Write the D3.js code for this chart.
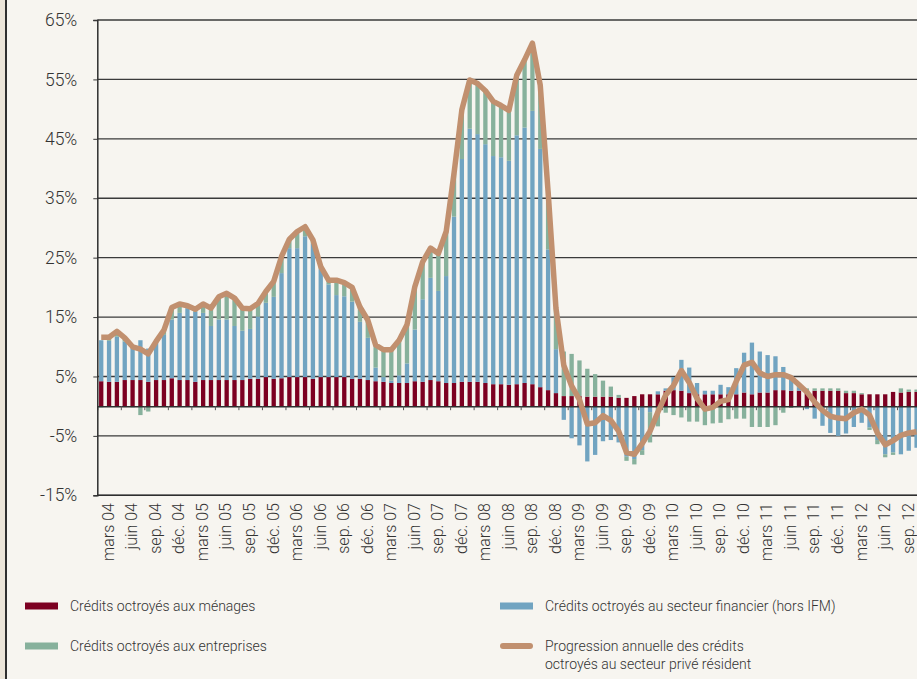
<!DOCTYPE html>
<html>
<head>
<meta charset="utf-8">
<script src="https://cdn.jsdelivr.net/npm/d3@7"></script>
<style>
body { margin: 0; background: #f7f5f0; }
svg { display: block; font-family: Roboto, "DejaVu Sans", sans-serif; }
</style>
</head>
<body>
<svg id="chart" width="917" height="679"></svg>
<script>
// contributions mensuelles (points de %), janv. 2004 -> sep. 2012
var menages = [4.2,4.1,4.1,4.4,4.4,4.4,4.1,4.4,4.4,4.7,4.4,4.4,4.1,4.4,4.4,4.4,4.4,4.4,4.4,4.6,
	4.6,4.9,4.6,4.7,4.9,4.9,4.9,4.6,4.9,4.9,4.9,4.9,4.6,4.6,4.4,4.2,4.1,3.9,3.9,3.9,
	4.2,4.1,4.4,4.2,3.9,3.9,4.1,4.1,4.1,3.9,3.7,3.7,3.6,3.7,3.9,3.7,3.2,2.7,2.2,1.7,
	1.7,1.7,1.6,1.6,1.6,1.6,1.4,1.4,1.7,2.0,2.0,2.0,2.6,2.7,2.6,2.2,2.0,2.0,2.0,2.0,
	2.0,2.0,2.3,2.0,2.3,2.3,2.7,2.7,2.6,2.6,2.6,2.6,2.6,2.6,2.6,2.2,2.2,2.0,2.0,2.0,
	2.0,2.4,2.3,2.4,2.4];
var financier = [6.9,6.9,7.6,6.5,5.8,6.7,5.6,6.3,7.6,9.9,11.3,12.1,11.8,11.3,9.1,10.2,10.2,9.1,8.3,8.4,
	10.5,12.5,13.8,17.7,21.7,21.7,23.7,22.8,18.2,15.6,13.8,13.6,13.0,9.6,7.1,2.3,0.8,0.4,1.3,3.3,
	8.7,13.9,17.2,15.2,18.0,28.0,37.5,42.6,41.7,40.2,38.4,38.2,37.7,41.9,43.0,46.0,40.1,23.7,7.4,-2.3,
	-5.4,-6.6,-9.3,-8.2,-5.9,-5.7,-6.1,-8.5,-8.9,-7.4,-1.0,0.5,0.4,2.2,5.2,4.3,1.9,0.6,0.6,1.6,
	1.2,4.4,6.7,8.7,6.9,6.3,5.7,3.9,2.4,0.6,-0.5,-2.1,-3.3,-4.5,-5.0,-4.6,-3.5,-2.8,-3.6,-5.7,
	-8.1,-7.8,-8.1,-7.5,-7.0];
var entreprises = [-0.2,0.4,0.8,0.5,-0.2,-1.5,-0.9,0.3,0.8,2.0,1.5,0.4,0.4,1.3,2.8,3.7,4.3,4.6,3.7,3.3,
	2.1,1.8,2.5,2.7,1.4,2.7,1.5,0.6,0.3,0.7,2.4,2.3,2.4,2.5,3.0,3.8,4.6,5.2,5.9,6.5,
	7.2,6.3,5.0,6.3,7.5,7.3,8.3,8.2,8.5,9.0,9.2,8.7,8.5,10.1,11.4,11.4,10.7,9.7,6.9,7.5,
	7.1,6.0,4.7,3.8,2.7,1.7,0.5,-0.7,-0.9,-0.8,-5.1,-3.4,-1.1,-1.5,-1.9,-2.6,-2.6,-3.2,-2.9,-2.8,
	-2.2,-2.1,-2.1,-3.5,-3.5,-3.5,-3.2,-1.1,-0.3,0.2,0.4,0.4,0.4,0.4,0.4,0.4,0.4,0.2,-0.4,-0.7,
	-0.5,-0.4,0.7,0.4,0.4];
// progression annuelle des credits au secteur prive resident (%)
var progression = [11.6,11.6,12.6,11.5,10.0,9.6,8.8,10.9,12.8,16.6,17.2,16.9,16.3,17.2,16.5,18.4,19.0,18.2,16.5,16.4,
	17.3,19.3,21.0,25.2,28.1,29.4,30.2,28.0,23.5,21.2,21.2,20.8,20.0,16.7,14.5,10.3,9.5,9.5,11.1,13.7,
	20.1,24.3,26.6,25.7,29.4,39.2,49.9,54.9,54.3,53.1,51.3,50.6,49.8,55.7,58.3,61.1,54.0,36.1,16.5,6.9,
	3.4,1.1,-3.0,-2.8,-1.6,-2.4,-4.2,-7.8,-8.1,-6.3,-4.2,-1.0,1.9,3.5,6.0,4.0,1.3,-0.5,-0.2,0.8,
	1.1,4.2,6.9,7.4,5.6,5.0,5.3,5.3,4.8,3.6,2.4,0.7,-0.7,-1.7,-2.0,-2.1,-1.1,-0.5,-1.5,-4.5,
	-6.5,-5.8,-4.9,-4.5,-4.3];
var trimestres = ["mars 04","juin 04","sep. 04","déc. 04","mars 05","juin 05","sep. 05","déc. 05",
	"mars 06","juin 06","sep. 06","déc. 06","mars 07","juin 07","sep. 07","déc. 07",
	"mars 08","juin 08","sep. 08","déc. 08","mars 09","juin 09","sep. 09","déc. 09",
	"mars 10","juin 10","sep. 10","déc. 10","mars 11","juin 11","sep. 11","déc. 11",
	"mars 12","juin 12","sep. 12"];
var yTicks = [-15,-5,5,15,25,35,45,55,65];
var mois = d3.timeMonths(new Date(2004, 0, 1), new Date(2012, 9, 1));

var colors = {menages: "#7c0021", financier: "#71a4c1", entreprises: "#87b19c", ligne: "#c1906f"};

var svg = d3.select("#chart");
var x0 = 97.3, bandW = 7.84;
var x1 = x0 + mois.length * bandW;

// cadre gauche
svg.append("rect").attr("x", 0).attr("y", 0).attr("width", 5).attr("height", 679).attr("fill", "#ebe4d8");
svg.append("rect").attr("x", 5).attr("y", 0).attr("width", 2).attr("height", 679).attr("fill", "#2e2e2e");

var x = d3.scaleBand().domain(mois).range([x0, x1]).paddingInner(0.45).paddingOuter(0.225);
var y = d3.scaleLinear().domain([-15, 65]).range([495.3, 20]);
var xq = d3.scaleBand().domain(trimestres).range([x0, x1]);
var xi = d3.scaleLinear().domain([0, mois.length]).range([x0, x1]);

// grille
svg.append("g").selectAll("line").data(yTicks).join("line")
	.attr("x1", x0).attr("x2", 917)
	.attr("y1", function(d) {return y(d);}).attr("y2", function(d) {return y(d);})
	.attr("stroke", "#3a3a3a").attr("stroke-width", 1.3);

var rows = mois.map(function(m, i) {
	return {mois: m, menages: menages[i], financier: financier[i], entreprises: entreprises[i]};
});
var series = d3.stack().keys(["menages", "financier", "entreprises"])
	.offset(d3.stackOffsetDiverging)(rows);

svg.append("g").selectAll("g").data(series).join("g")
	.attr("fill", function(s) {return colors[s.key];})
	.selectAll("rect").data(function(s) {return s;}).join("rect")
		.attr("x", function(d) {return x(d.data.mois);})
		.attr("width", x.bandwidth())
		.attr("y", function(d) {return y(Math.max(d[0], d[1]));})
		.attr("height", function(d) {return Math.abs(y(d[0]) - y(d[1]));});

// axe des abscisses (ligne du zero + graduations)
var xAxis = svg.append("g").attr("transform", "translate(0," + y(0) + ")")
	.call(d3.axisBottom(xi).tickValues(d3.range(0, mois.length + 1, 3)).tickSize(4).tickSizeOuter(0).tickFormat(""));
xAxis.select(".domain").attr("stroke", "#2e2e2e").attr("stroke-width", 1.5);
xAxis.selectAll(".tick line").attr("stroke", "#555");

var labels = svg.append("g").attr("transform", "translate(0,503)")
	.call(d3.axisBottom(xq).tickSize(0).tickPadding(0));
labels.select(".domain").remove();
labels.selectAll(".tick text")
	.attr("transform", "rotate(-90)")
	.attr("x", 0).attr("y", 0).attr("dy", "0.3em")
	.style("text-anchor", "end")
	.attr("font-family", "Roboto").attr("font-weight", 300)
	.attr("font-size", 16).attr("fill", "#333");

// axe des ordonnees
var yAxis = svg.append("g").attr("transform", "translate(" + x0 + ",0)")
	.call(d3.axisLeft(y).tickValues(yTicks).tickSize(4).tickPadding(16)
		.tickFormat(function(d) {return d + "%";}));
yAxis.select(".domain").attr("stroke", "#2e2e2e").attr("stroke-width", 1.5);
yAxis.selectAll(".tick line").attr("stroke", "#3a3a3a");
yAxis.selectAll(".tick text").attr("font-family", "Roboto").attr("font-weight", 300)
	.attr("font-size", 17.5).attr("fill", "#333");

// bas du graphique
svg.append("line").attr("x1", x0).attr("x2", 917).attr("y1", y(-15)).attr("y2", y(-15))
	.attr("stroke", "#2e2e2e").attr("stroke-width", 1.5);

// progression annuelle
var line = d3.line()
	.x(function(d, i) {return x(mois[i]) + x.bandwidth() / 2;})
	.y(function(d) {return y(d);});
svg.append("path").datum(progression)
	.attr("d", line)
	.attr("fill", "none").attr("stroke", colors.ligne)
	.attr("stroke-width", 5.5).attr("stroke-linejoin", "round");

// legende
var legende = [
	{label: ["Crédits octroyés aux ménages"], key: "menages", x: 25, y: 606},
	{label: ["Crédits octroyés au secteur financier (hors IFM)"], key: "financier", x: 500, y: 606},
	{label: ["Crédits octroyés aux entreprises"], key: "entreprises", x: 25, y: 646},
	{label: ["Progression annuelle des crédits", "octroyés au secteur privé résident"], key: "ligne", x: 500, y: 646}
];
var lg = svg.append("g").selectAll("g").data(legende).join("g")
	.attr("transform", function(d) {return "translate(" + d.x + "," + d.y + ")";});
lg.filter(function(d) {return d.key != "ligne";}).append("rect")
	.attr("x", 0).attr("y", -3.5).attr("width", 33).attr("height", 7)
	.attr("fill", function(d) {return colors[d.key];});
lg.filter(function(d) {return d.key == "ligne";}).append("line")
	.attr("x1", 3).attr("x2", 30).attr("y1", 0).attr("y2", 0)
	.attr("stroke", colors.ligne).attr("stroke-width", 6).attr("stroke-linecap", "round");
lg.append("text")
	.attr("x", 45).attr("font-family", "Roboto").attr("font-weight", 300)
	.attr("font-size", 14).attr("fill", "#333")
	.selectAll("tspan").data(function(d) {return d.label;}).join("tspan")
		.attr("x", 45).attr("y", function(d, i) {return i * 18;}).attr("dy", "0.35em")
		.text(function(d) {return d;});
</script>
</body>
</html>
